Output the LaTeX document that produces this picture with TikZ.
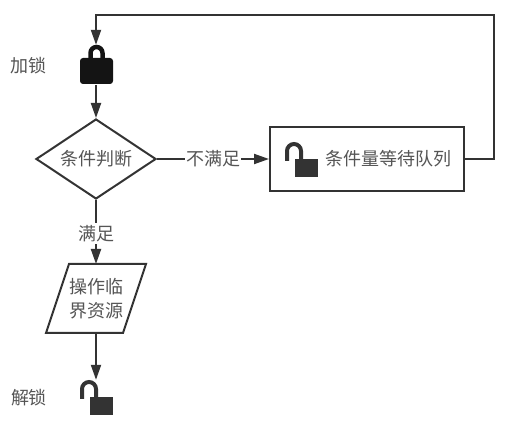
\documentclass[tikz,border=0pt]{standalone}
\usepackage{fontspec}
\setmainfont{Noto Sans CJK SC}
\usetikzlibrary{arrows.meta,shapes.geometric}
\definecolor{ln}{HTML}{333333}
\definecolor{tx}{HTML}{555555}
\tikzset{
  x=1pt,y=-1pt,
  txt/.style={text=tx,font=\fontsize{18}{24}\selectfont,inner sep=0pt,align=center},
  edge/.style={draw=ln,line width=2pt,-{Triangle[length=15pt,width=10pt,fill=ln]}},
  lab/.style={txt,fill=white,inner xsep=1pt,inner ysep=2pt},
  iconbox/.style={inner sep=0pt,minimum width=33pt,minimum height=40pt},
  shape line/.style={draw=ln,line width=2pt,fill=white}
}
\begin{document}
\begin{tikzpicture}
\useasboundingbox (0,0) rectangle (507,430);
\node[iconbox] (lock) at (96,65) {};
\node[draw=ln,line width=2pt,fill=white,diamond,aspect=1.5,inner sep=0pt,minimum width=120pt,minimum height=80pt] (cond) at (96,159) {};
\node[txt] at (cond.center) {条件判断};
\node[draw=ln,line width=2pt,fill=white,minimum width=194pt,minimum height=64pt,inner sep=0pt] (queue) at (367,159) {};
\node[txt,anchor=west] (qtext) at (325,159) {条件量等待队列};
\node[iconbox,minimum width=33pt,minimum height=35pt] (qlock) at (301.5,159.5) {};
\coordinate (pa) at (69,264);
\coordinate (pb) at (146,264);
\coordinate (pc) at (123,333);
\coordinate (pd) at (46,333);
\draw[shape line,line join=miter] (pa) -- (pb) -- (pc) -- (pd) -- cycle;
\node[inner sep=0pt,minimum width=70pt,minimum height=69pt] (op) at (96,298.5) {};
\node[txt] at (96,298.5) {操作临\\界资源};
\node[iconbox,minimum width=33pt,minimum height=35pt] (ulock) at (96,397.5) {};
\node[txt] (jia) at (28,66) {加锁};
\node[txt] (jie) at (29,398) {解锁};
% locked icon
\fill[black!92,rounded corners=3pt] (80,58) rectangle (113,84);
\draw[black!92,line width=4.5pt] (90.5,59) -- (90.5,53) arc[start angle=180,end angle=0,x radius=6,y radius=-6] -- (102.5,59);
% open icons
\foreach \dx/\dy in {0/0,205/-238}{
  \fill[ln] (90+\dx,397+\dy) rectangle (113+\dx,415+\dy);
  \draw[ln,line width=4pt] (82+\dx,399+\dy) -- (82+\dx,389+\dy) arc[start angle=180,end angle=0,x radius=7,y radius=-7] -- (96+\dx,398+\dy);
}
% connectors
\coordinate (c1) at (494,159);
\coordinate (c2) at (494,15);
\coordinate (c3) at (96,15);
\draw[edge] (queue.east) -- (c1) -- (c2) -- (c3) -- (lock.north);
\draw[edge] (lock.south) -- (cond.north);
\draw[edge] (cond.east) -- node[lab,pos=0.5] (nm) {不满足} (queue.west);
\draw[edge] (cond.south) -- node[lab,pos=0.52] (ym) {满足} (cond.south|-pa);
\draw[edge] (op.south) -- (ulock.north);
\end{tikzpicture}
\end{document}
